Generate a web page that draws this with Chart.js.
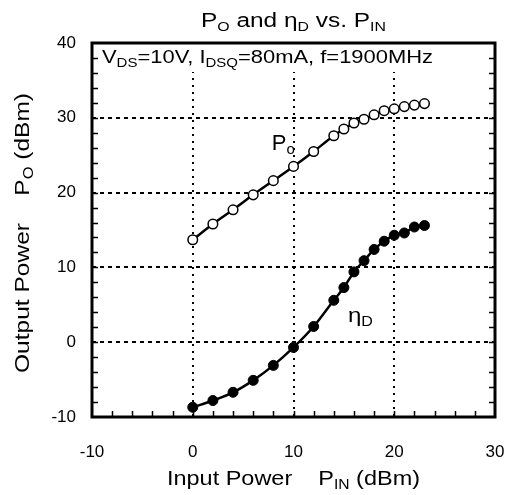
<!DOCTYPE html>
<html lang="en">
<head>
    <meta charset="UTF-8">
    <title>PO and etaD vs. PIN</title>
    <script src="https://cdn.jsdelivr.net/npm/chart.js"></script>
    <style>
        html, body { margin: 0; padding: 0; background: #fff; }
        #wrap { width: 510px; height: 495px; position: relative; }
    </style>
</head>
<body>
    <div id="wrap"><canvas id="chart"></canvas></div>

    <script>
        // input power (dBm) for each measured point
        var pinDbm = [0, 2, 4, 6, 8, 10, 12, 14, 15, 16, 17, 18, 19, 20, 21, 22, 23];
        // output power PO (dBm)
        var poDbm = [13.7, 15.8, 17.7, 19.7, 21.6, 23.5, 25.5, 27.6, 28.5, 29.3, 29.8, 30.4, 30.95, 31.2, 31.5, 31.7, 31.9];
        // drain efficiency etaD, read against the same axis
        var etaD = [-8.7, -7.8, -6.7, -5.1, -3.1, -0.7, 2.1, 5.6, 7.3, 9.4, 10.9, 12.4, 13.5, 14.3, 14.6, 15.4, 15.6];

        var xTicks = [-10, 0, 10, 20, 30];
        var yTicks = [-10, 0, 10, 20, 30, 40];

        var FONT = '"Liberation Sans", Arial, Helvetica, sans-serif';

        function toPoints(xs, ys) {
            return xs.map(function (x, i) { return { x: x, y: ys[i] }; });
        }

        // text with subscripts: parts = [[text, isSub], ...]
        // width (optional) stretches the text horizontally to that width
        function drawRich(ctx, parts, x, y, size, align, width) {
            var subSize = Math.round(size * 0.66);
            var natural = 0;
            parts.forEach(function (p) {
                ctx.font = (p[1] ? subSize : size) + 'px ' + FONT;
                natural += ctx.measureText(p[0]).width;
            });
            var sx = width ? width / natural : 1;
            ctx.save();
            ctx.translate(align === 'center' ? x - natural * sx / 2 : x, y);
            ctx.scale(sx, 1);
            ctx.textAlign = 'left';
            ctx.textBaseline = 'alphabetic';
            var cx = 0;
            parts.forEach(function (p) {
                ctx.font = (p[1] ? subSize : size) + 'px ' + FONT;
                ctx.fillText(p[0], cx, p[1] ? size * 0.2 : 0);
                cx += ctx.measureText(p[0]).width;
            });
            ctx.restore();
        }

        var isInner = function (v, list) {
            return v > list[0] && v < list[list.length - 1];
        };

        var decorPlugin = {
            id: 'decor',
            beforeDatasetsDraw: function (chart) {
                // white box behind the test conditions, hides the grid there
                var ctx = chart.ctx, a = chart.chartArea;
                ctx.save();
                ctx.fillStyle = '#fff';
                ctx.fillRect(a.left + 1, a.top + 1, a.right - a.left - 2, 28);
                ctx.restore();
            },
            afterDraw: function (chart) {
                var ctx = chart.ctx;
                var a = chart.chartArea;
                var xs = chart.scales.x, ys = chart.scales.y;
                ctx.save();
                ctx.fillStyle = '#000';
                ctx.strokeStyle = '#000';

                // minor ticks, pointing inward
                ctx.lineWidth = 1.5;
                ctx.beginPath();
                for (var v = -8; v < 30; v += 2) {
                    var px = Math.round(xs.getPixelForValue(v)) + 0.5;
                    ctx.moveTo(px, a.bottom);
                    ctx.lineTo(px, a.bottom - 6);
                }
                for (var w = -8; w < 40; w += 2) {
                    var py = Math.round(ys.getPixelForValue(w)) + 0.5;
                    ctx.moveTo(a.left, py);
                    ctx.lineTo(a.left + 6, py);
                    ctx.moveTo(a.right, py);
                    ctx.lineTo(a.right - 6, py);
                }
                ctx.stroke();

                // frame
                ctx.lineWidth = 3;
                ctx.strokeRect(a.left, a.top, a.right - a.left, a.bottom - a.top);

                // title
                drawRich(ctx, [['P', 0], ['O', 1], [' and \u03B7', 0], ['D', 1], [' vs. P', 0], ['IN', 1]],
                    (a.left + a.right) / 2, 27, 20, 'center', 185);

                // test conditions
                drawRich(ctx, [['V', 0], ['DS', 1], ['=10V, I', 0], ['DSQ', 1], ['=80mA, f=1900MHz', 0]],
                    a.left + 10, 63, 19, 'left', 331);

                // curve labels
                drawRich(ctx, [['P', 0], ['o', 1]], xs.getPixelForValue(7.85), ys.getPixelForValue(25.7), 22, 'left');
                drawRich(ctx, [['\u03B7', 0], ['D', 1]], xs.getPixelForValue(15.4), ys.getPixelForValue(2.7), 21, 'left', 25);

                // x axis title
                drawRich(ctx, [['Input Power    P', 0], ['IN', 1], [' (dBm)', 0]],
                    (a.left + a.right) / 2, 485, 21, 'center', 253);

                // y axis title (rotated)
                ctx.translate(29, 233);
                ctx.rotate(-Math.PI / 2);
                drawRich(ctx, [['Output Power    P', 0], ['O', 1], [' (dBm)', 0]], 0, 0, 21, 'center', 280);
                ctx.restore();
            }
        };

        var ctx = document.getElementById('chart').getContext('2d');

        new Chart(ctx, {
            type: 'scatter',
            data: {
                datasets: [{
                    label: 'PO',
                    data: toPoints(pinDbm, poDbm),
                    showLine: true,
                    cubicInterpolationMode: 'monotone',
                    borderColor: '#000',
                    borderWidth: 2.5,
                    pointRadius: 4.8,
                    pointBorderWidth: 1.5,
                    pointBackgroundColor: '#fff',
                    pointBorderColor: '#000'
                }, {
                    label: 'etaD',
                    data: toPoints(pinDbm, etaD),
                    showLine: true,
                    cubicInterpolationMode: 'monotone',
                    borderColor: '#000',
                    borderWidth: 2.5,
                    pointRadius: 5,
                    pointBorderWidth: 1,
                    pointBackgroundColor: '#000',
                    pointBorderColor: '#000'
                }]
            },
            options: {
                responsive: true,
                maintainAspectRatio: false,
                animation: false,
                layout: { padding: { left: 51, right: 15, top: 43, bottom: 33 } },
                plugins: {
                    legend: { display: false },
                    title: { display: false },
                    tooltip: { enabled: false }
                },
                scales: {
                    x: {
                        type: 'linear',
                        min: xTicks[0],
                        max: xTicks[xTicks.length - 1],
                        afterBuildTicks: function (s) { s.ticks = xTicks.map(function (v) { return { value: v }; }); },
                        afterFit: function (s) { s.height = 45; s.paddingLeft = 0; s.paddingRight = 0; },
                        ticks: { color: '#000', font: { family: FONT, size: 17 }, padding: 25 },
                        grid: {
                            drawTicks: false,
                            lineWidth: 2,
                            color: function (c) { return c.tick && isInner(c.tick.value, xTicks) ? '#000' : 'rgba(0,0,0,0)'; }
                        },
                        border: { display: false, dash: [2, 5] }
                    },
                    y: {
                        type: 'linear',
                        min: yTicks[0],
                        max: yTicks[yTicks.length - 1],
                        afterBuildTicks: function (s) { s.ticks = yTicks.map(function (v) { return { value: v }; }); },
                        afterFit: function (s) { s.width = 41; s.paddingTop = 0; s.paddingBottom = 0; },
                        ticks: { color: '#000', font: { family: FONT, size: 17 }, padding: 16 },
                        grid: {
                            drawTicks: false,
                            lineWidth: 2,
                            color: function (c) { return c.tick && isInner(c.tick.value, yTicks) ? '#000' : 'rgba(0,0,0,0)'; }
                        },
                        border: { display: false, dash: [4, 4] }
                    }
                }
            },
            plugins: [decorPlugin]
        });
    </script>
</body>
</html>
